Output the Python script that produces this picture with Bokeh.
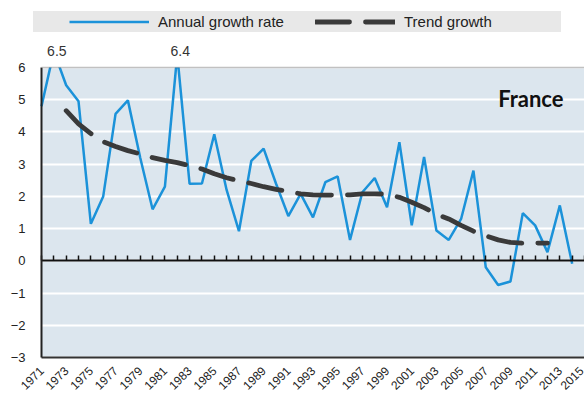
import numpy as np
from bokeh.plotting import figure
from bokeh.models import (Range1d, LinearAxis, FixedTicker, Legend, LegendItem,
                          Label, BoxAnnotation)
from bokeh.embed import file_html
from bokeh.resources import INLINE

# ---------------- data ----------------
years = list(range(1971, 2015))
annual_growth = [4.8, 6.5, 5.45, 4.95, 1.15, 2.0, 4.56, 4.98, 3.2, 1.6,
                 2.3, 6.4, 2.39, 2.4, 3.93, 2.2, 0.92, 3.1, 3.48, 2.4,
                 1.39, 2.08, 1.35, 2.44, 2.62, 0.65, 2.13, 2.57, 1.66, 3.68,
                 1.1, 3.22, 0.94, 0.65, 1.3, 2.8, -0.2, -0.75, -0.64, 1.48,
                 1.1, 0.27, 1.72, -0.09]
trend_years = list(range(1973, 2013))
trend_growth = [4.66, 4.25, 3.95, 3.7, 3.55, 3.42, 3.32, 3.2, 3.12, 3.05,
                2.95, 2.85, 2.7, 2.58, 2.48, 2.4, 2.3, 2.22, 2.15, 2.08,
                2.05, 2.04, 2.04, 2.05, 2.08, 2.08, 2.07, 1.97, 1.82, 1.65,
                1.45, 1.3, 1.1, 0.92, 0.78, 0.65, 0.57, 0.55, 0.55, 0.55]
peak_years = [1972, 1982]
peak_values = [6.5, 6.4]
x_tick_labels = list(range(1971, 2016, 2))
minor_years = list(range(1971, 2016))
y_ticks = [-3, -2, -1, 0, 1, 2, 3, 4, 5, 6]
series_names = ["Annual growth rate", "Trend growth"]
country = "France"

X0, X1 = 1971, 2015
Y0, Y1 = -3, 6

BLUE = "#1b92d9"
TREND = "#3a3a3a"
BG = "#dce6ee"
BAND = "#e8e8e8"
DARK = "#333333"

# the frame covers the whole canvas; the chart box (1971..2015, -3..6)
# sits 41px from the left, 67px from the top and 43px from the bottom
W, H = 584, 400
LEFT_PX, TOP_PX, BOTTOM_PX = 41, 67, 43
px_per_year = (W - LEFT_PX) / (X1 - X0)
px_per_unit = (H - BOTTOM_PX - TOP_PX) / (Y1 - Y0)
x_start = X0 - LEFT_PX / px_per_year
y_start = Y0 - BOTTOM_PX / px_per_unit
y_end = Y1 + TOP_PX / px_per_unit

p = figure(width=W, height=H, output_backend="svg", toolbar_location=None,
           x_range=Range1d(x_start, X1), y_range=Range1d(y_start, y_end),
           min_border=0)
p.background_fill_color = "white"
p.border_fill_color = "white"
p.outline_line_color = None

# chart background box (drawn beneath the grid)
p.add_layout(BoxAnnotation(left=X0, right=X1, bottom=Y0, top=Y1,
                           fill_color=BG, fill_alpha=1, line_alpha=0,
                           level="image"))

p.xgrid.visible = False
p.ygrid.ticker = FixedTicker(ticks=y_ticks)
p.ygrid.bounds = (X0, X1)
p.ygrid.grid_line_color = "white"
p.ygrid.grid_line_width = 2

# y axis at 1971
p.yaxis.fixed_location = X0
p.yaxis.bounds = (Y0, Y1)
p.yaxis.ticker = FixedTicker(ticks=y_ticks)
p.yaxis.axis_line_color = "#222222"
p.yaxis.axis_line_width = 2
p.yaxis.major_tick_line_color = None
p.yaxis.minor_tick_line_color = None
p.yaxis.major_label_text_font = "Liberation Sans"
p.yaxis.major_label_text_font_size = "13px"
p.yaxis.major_label_text_color = "#222222"
p.yaxis.major_label_standoff = 10

# bottom axis (labels) at -3
p.xaxis.fixed_location = Y0
p.xaxis.ticker = FixedTicker(ticks=x_tick_labels)
p.xaxis.bounds = (X0, X1)
p.xaxis.axis_line_color = DARK
p.xaxis.axis_line_width = 2
p.xaxis.major_tick_line_color = None
p.xaxis.minor_tick_line_color = None
p.xaxis.major_label_orientation = np.pi / 4
p.xaxis.major_label_text_font = "Liberation Sans"
p.xaxis.major_label_text_font_size = "12px"
p.xaxis.major_label_text_color = "#222222"
p.xaxis.major_label_standoff = 5

# zero line axis with small inward ticks
zero_axis = LinearAxis(fixed_location=0, bounds=(X0, X1),
                       ticker=FixedTicker(ticks=minor_years),
                       axis_line_color="#111111", axis_line_width=2,
                       major_tick_in=5, major_tick_out=0,
                       major_tick_line_color="#111111", major_tick_line_width=1.5,
                       minor_tick_line_color=None,
                       major_label_text_font_size="0px", major_label_text_alpha=0)
p.add_layout(zero_axis, "below")

# series
r_annual = p.line(x=years, y=annual_growth, line_color=BLUE, line_width=2.5)
r_trend = p.line(x=trend_years, y=trend_growth, line_color=TREND, line_width=4.8,
                 line_dash="34 16", line_cap="round")

# hide what rises above the axis maximum, then draw the top border
p.add_layout(BoxAnnotation(left=X0, bottom=Y1, fill_color="white", fill_alpha=1,
                           line_alpha=0))
p.add_layout(BoxAnnotation(left=X0, right=X1, bottom=Y1, top=Y1, fill_alpha=0,
                           line_color=DARK, line_width=1.5))

# legend band at the top (location measured from the canvas bottom-left)
legend = Legend(items=[LegendItem(label=series_names[0], renderers=[r_annual]),
                       LegendItem(label=series_names[1], renderers=[r_trend])],
                location=(33, 368), orientation="horizontal",
                title=" ", title_location="left", title_standoff=21,
                glyph_width=80, glyph_height=21, label_standoff=9, spacing=0,
                label_width=157, padding=4, margin=0,
                background_fill_color=BAND, background_fill_alpha=1,
                border_line_color=None,
                label_text_font="Liberation Sans Narrow, Arial Narrow, sans-serif",
                label_text_font_size="15px", label_text_color="#222222")
p.add_layout(legend, "center")

# peak value labels (values beyond the axis maximum), set above the chart box
for yr, val in zip(peak_years, peak_values):
    p.add_layout(Label(x=yr, y=Y1, text=f"{val:.1f}", text_align="center",
                       text_baseline="middle", x_offset=3, y_offset=17,
                       text_font="Liberation Sans", text_font_size="14px",
                       text_color="#333333"))

# country label
p.add_layout(Label(x=2013.3, y=5.05, text=country, text_align="right",
                   text_baseline="middle", text_font="Lato",
                   text_font_style="bold", text_font_size="22px",
                   text_color="#111111"))

open("out.html", "w").write(file_html(p, INLINE))
